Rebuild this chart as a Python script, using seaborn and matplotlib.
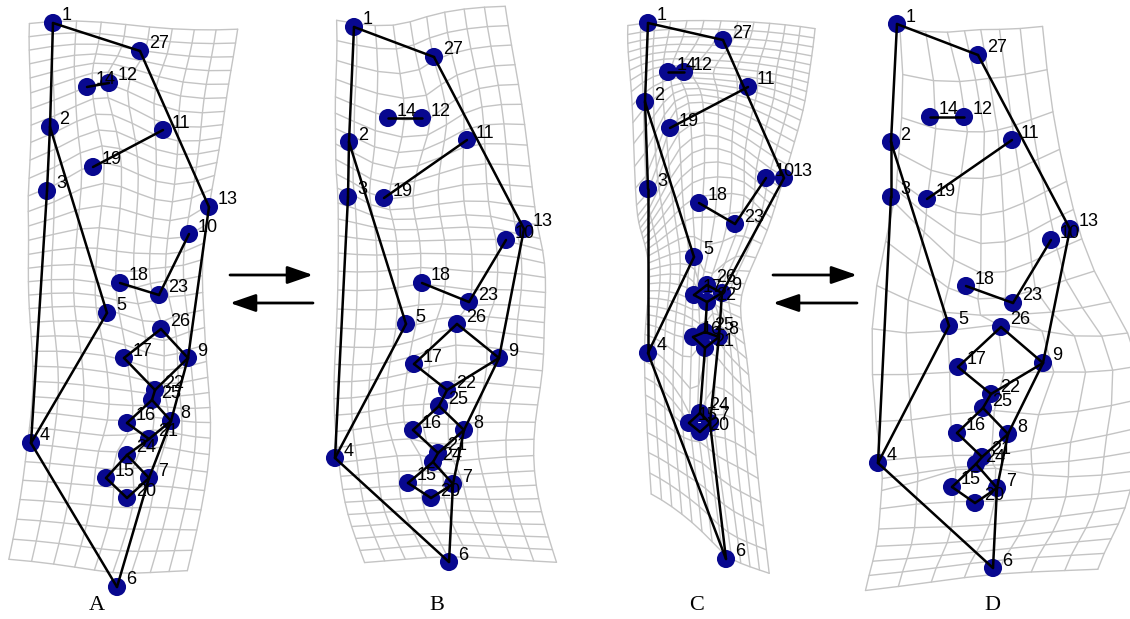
import numpy as np
import pandas as pd
import matplotlib
matplotlib.use("Agg")
import matplotlib.pyplot as plt
import seaborn as sns

# ---------------- data: landmark positions (px inside each panel) ----------------
landmark_ids = list(range(1, 28))

A_x = [53, 50, 47, 31, 107, 117, 149, 171, 188, 189, 163, 109, 209, 87, 106, 127, 124, 120, 93, 127, 149, 155, 159, 127, 152, 161, 140]
A_y = [23, 127, 191, 443, 313, 587, 478, 421, 358, 234, 130, 83, 207, 87, 478, 423, 358, 283, 167, 498, 439, 390, 295, 455, 400, 329, 51]

B_x = [54, 49, 48, 35, 106, 149, 153, 164, 199, 206, 167, 122, 224, 88, 108, 113, 114, 122, 84, 131, 138, 147, 169, 133, 139, 157, 134]
B_y = [27, 142, 197, 458, 324, 562, 484, 430, 358, 240, 140, 118, 229, 118, 483, 430, 364, 283, 198, 498, 453, 390, 302, 462, 406, 324, 57]

C_x = [58, 55, 58, 58, 104, 136, 120, 129, 132, 176, 158, 94, 194, 78, 99, 103, 104, 109, 80, 110, 115, 117, 145, 110, 115, 117, 133]
C_y = [23, 102, 189, 353, 257, 559, 423, 337, 293, 178, 87, 72, 178, 72, 423, 337, 295, 203, 128, 432, 348, 302, 224, 413, 332, 285, 40]

D_x = [67, 61, 61, 48, 119, 163, 167, 178, 213, 221, 182, 134, 240, 100, 122, 127, 128, 136, 97, 145, 152, 161, 183, 146, 153, 171, 148]
D_y = [24, 142, 197, 463, 326, 568, 488, 434, 363, 240, 140, 117, 229, 117, 487, 433, 367, 286, 199, 503, 457, 394, 303, 464, 408, 327, 55]

edges = [(1, 27), (1, 2), (2, 3), (3, 4), (2, 5), (5, 4), (4, 6), (27, 13), (13, 9),
         (9, 8), (8, 7), (7, 6), (11, 19), (14, 12), (18, 23), (23, 10), (26, 17),
         (26, 9), (17, 22), (22, 9), (22, 25), (25, 16), (25, 8), (16, 21), (21, 8),
         (21, 24), (24, 15), (24, 7), (15, 20), (20, 7)]

panel_names = ["A", "B", "C", "D"]
# grid of each panel = regular grid in partner's space, warped onto this panel
partner = {"A": "B", "B": "A", "C": "D", "D": "C"}

# ---------------- layout / style ----------------
W, H = 1130, 619
origin_x = {"A": 0, "B": 300, "C": 590, "D": 830}
label_x = {"A": 97, "B": 437, "C": 697, "D": 992}
label_y = 606
# grid frame in partner's coordinates: x0, x1, y0, y1, ncols, nrows
grid_frame = {"A": (32, 224, 25, 552, 9, 34),
              "B": (35, 222, 20, 580, 9, 34),
              "C": (42, 240, 24, 566, 12, 40),
              "D": (60, 200, 25, 570, 7, 20)}
tps_lambda = {"A": 0.01, "B": 0.01, "C": 0.01, "D": 0.05}

dot_color = "#08088f"
grid_color = "#c4c4c4"

coords = {"A": (A_x, A_y), "B": (B_x, B_y), "C": (C_x, C_y), "D": (D_x, D_y)}


def U(r):
    with np.errstate(divide="ignore", invalid="ignore"):
        v = r ** 2 * np.log(r ** 2)
    return np.nan_to_num(v)


def tps(src, dst, lam):
    s = src / 100.0
    n = len(s)
    K = U(np.sqrt(((s[:, None] - s[None]) ** 2).sum(-1)))
    P = np.hstack([np.ones((n, 1)), s])
    L = np.zeros((n + 3, n + 3))
    L[:n, :n] = K + lam * np.eye(n)
    L[:n, n:] = P
    L[n:, :n] = P.T
    Y = np.vstack([dst, np.zeros((3, 2))])
    Wt = np.linalg.solve(L, Y)

    def f(pts):
        p = pts / 100.0
        Kp = U(np.sqrt(((p[:, None] - s[None]) ** 2).sum(-1)))
        Pp = np.hstack([np.ones((len(p), 1)), p])
        return Kp @ Wt[:n] + Pp @ Wt[n:]
    return f


sns.set_theme(style="white")
plt.rcParams["font.family"] = ["Liberation Sans", "DejaVu Sans"]

fig = plt.figure(figsize=(W / 100, H / 100), dpi=100)
ax = fig.add_axes([0, 0, 1, 1])
ax.set_xlim(0, W)
ax.set_ylim(H, 0)
ax.axis("off")

for name in panel_names:
    ox = origin_x[name]
    dx, dy = coords[name]
    dst = np.column_stack([dx, dy]).astype(float)
    px, py = coords[partner[name]]
    src = np.column_stack([px, py]).astype(float)
    warp = tps(src, dst, tps_lambda[name])

    x0, x1, y0, y1, nc, nr = grid_frame[name]
    gx = np.linspace(x0, x1, nc + 1)
    gy = np.linspace(y0, y1, nr + 1)
    for xv in gx:
        pts = warp(np.column_stack([np.full_like(gy, xv), gy]))
        ax.plot(pts[:, 0] + ox, pts[:, 1], color=grid_color, lw=1.0, zorder=1)
    for yv in gy:
        pts = warp(np.column_stack([gx, np.full_like(gx, yv)]))
        ax.plot(pts[:, 0] + ox, pts[:, 1], color=grid_color, lw=1.0, zorder=1)

    df = pd.DataFrame({"id": landmark_ids,
                       "x": np.array(dx) + ox, "y": np.array(dy)})
    sns.scatterplot(data=df, x="x", y="y", ax=ax, s=170, color=dot_color,
                    edgecolor="none", linewidth=0, zorder=3, legend=False)
    pos = df.set_index("id")
    for a, b in edges:
        ax.plot([pos.loc[a, "x"], pos.loc[b, "x"]], [pos.loc[a, "y"], pos.loc[b, "y"]],
                color="black", lw=1.8, zorder=4, solid_capstyle="round")
    for i, r in df.iterrows():
        ax.text(r["x"] + 9, r["y"] - 7, str(r["id"]), fontsize=13, color="black",
                ha="left", va="center", zorder=5)
    ax.text(label_x[name], label_y, name, fontsize=16, family="Liberation Serif",
            ha="center", va="center", color="black")

# arrows between panels
arrow_rows = [(230, 313, 275), (313, 230, 303), (773, 857, 275), (857, 773, 303)]
for xs, xe, yy in arrow_rows:
    ax.annotate("", xy=(xe, yy), xytext=(xs, yy),
                arrowprops=dict(arrowstyle="-|>,head_length=1.3,head_width=0.45",
                                color="black", lw=2.0, shrinkA=0, shrinkB=0))

fig.savefig("out.png", dpi=100, facecolor="white")
